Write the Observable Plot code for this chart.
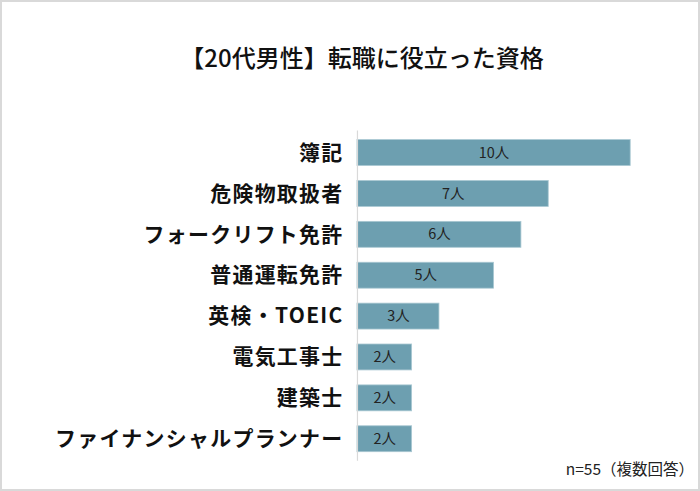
<!DOCTYPE html>
<html>
<head>
<meta charset="utf-8">
<script src="https://cdn.jsdelivr.net/npm/d3@7"></script>
<script src="https://cdn.jsdelivr.net/npm/@observablehq/plot@0.6"></script>
<style>
  html, body { margin: 0; padding: 0; background: #fff; }
  #wrap { position: relative; width: 700px; height: 491px; box-sizing: border-box; border: 2px solid #d9d9d9; overflow: hidden; font-family: "Noto Sans CJK JP", "Noto Sans", sans-serif; }
  #title { position: absolute; left: 22px; width: 676px; top: 37px; text-align: center; font-size: 24px; color: #111; font-weight: 500; }
  #chart { position: absolute; left: -2px; top: -2px; }
  #caption { position: absolute; right: 4px; top: 455px; font-size: 15.5px; color: #222; }
  g[aria-label="y-axis tick label"] text { letter-spacing: 1.3px; }
</style>
</head>
<body>
<div id="wrap">
  <div id="title">【20代男性】転職に役立った資格</div>
  <div id="chart"></div>
  <div id="caption">n=55（複数回答）</div>
</div>
<script>
const categories = ["簿記", "危険物取扱者", "フォークリフト免許", "普通運転免許", "英検・TOEIC", "電気工事士", "建築士", "ファイナンシャルプランナー"];
const counts = [10, 7, 6, 5, 3, 2, 2, 2];
const unit = "人";

const data = categories.map((c, i) => ({category: c, value: counts[i]}));

const chart = Plot.plot({
  width: 700,
  height: 491,
  marginLeft: 358,
  marginRight: 68,
  marginTop: 131,
  marginBottom: 29,
  style: {fontFamily: "'Noto Sans CJK JP', sans-serif", background: "transparent"},
  x: {domain: [0, 10], axis: null},
  y: {domain: categories, paddingInner: 0.37, paddingOuter: 0.185, label: null},
  marks: [
    Plot.barX(data, {x: "value", y: "category", fill: "#6d9fb0", stroke: "#a9c8d2", strokeWidth: 0.8}),
    Plot.ruleX([0], {stroke: "#d9d9d9", strokeWidth: 1.2}),
    Plot.text(data, {x: d => d.value / 2, y: "category", text: d => d.value + unit, fill: "#222", fontSize: 14.5}),
    Plot.axisY({tickSize: 0, tickPadding: 14, fontSize: 21, fontWeight: "bold", fill: "#111", label: null})
  ]
});
document.getElementById("chart").appendChild(chart);
</script>
</body>
</html>
